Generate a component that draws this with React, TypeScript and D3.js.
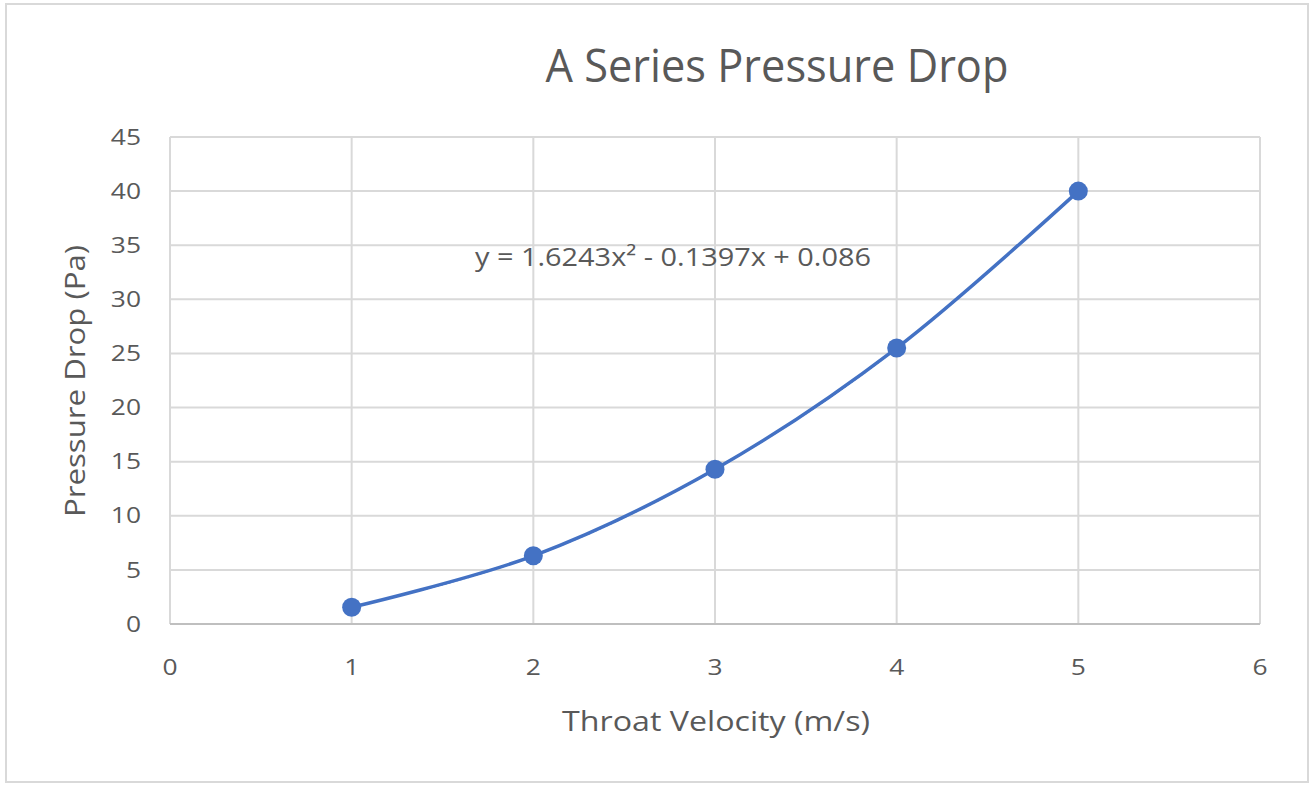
import React from "react";
import * as d3 from "d3";

const velocity = [1, 2, 3, 4, 5];
const pressure = [1.55, 6.3, 14.3, 25.5, 40.0];
const xTicks = [0, 1, 2, 3, 4, 5, 6];
const yTicks = [0, 5, 10, 15, 20, 25, 30, 35, 40, 45];
const equation = "y = 1.6243x² - 0.1397x + 0.086";

const W = 1311;
const H = 785;
const grey = "#d9d9d9";
const textColor = "#595959";
const blue = "#4472c4";
const font = "'Open Sans', 'Noto Sans', sans-serif";

// the reference is a bit wider than tall, so the small labels get stretched
function Label(props: { x: number; y: number; anchor: string; children: React.ReactNode }) {
  return (
    <text
      transform={`translate(${props.x},${props.y}) scale(1.2,1)`}
      dy="0.35em"
      textAnchor={props.anchor}
      fontSize={22}
      fill={textColor}
    >
      {props.children}
    </text>
  );
}

export default function App() {
  const x = d3.scaleLinear().domain([0, 6]).range([170, 1260]);
  const y = d3.scaleLinear().domain([0, 45]).range([624, 137]);

  const pts: [number, number][] = velocity.map((v, i) => [x(v), y(pressure[i])]);
  const smooth = d3.line().curve(d3.curveCatmullRom.alpha(0.5))(pts) || "";
  const trend = d3.line().curve(d3.curveNatural)(pts) || "";

  return (
    <svg
      width={W}
      height={H}
      style={{ position: "absolute", left: 0, top: 0, background: "#fff" }}
      fontFamily={font}
    >
      <rect x={6} y={4} width={1302} height={778} fill="#fff" stroke={grey} strokeWidth={2} />

      <text
        x={777}
        y={82}
        textAnchor="middle"
        fontSize={46}
        fill={textColor}
        textLength={463}
        lengthAdjust="spacingAndGlyphs"
      >
        A Series Pressure Drop
      </text>

      {yTicks.map((t) => (
        <g key={"y" + t}>
          <line x1={x(0)} x2={x(6)} y1={y(t)} y2={y(t)} stroke={grey} strokeWidth={2} />
          <Label x={141} y={y(t)} anchor="end">
            {t}
          </Label>
        </g>
      ))}
      {xTicks.map((t) => (
        <g key={"x" + t}>
          <line x1={x(t)} x2={x(t)} y1={y(0)} y2={y(45)} stroke={grey} strokeWidth={2} />
          <Label x={x(t)} y={667} anchor="middle">
            {t}
          </Label>
        </g>
      ))}
      <line x1={x(0)} x2={x(6)} y1={y(0)} y2={y(0)} stroke="#bfbfbf" strokeWidth={2} />

      <text
        x={716}
        y={722}
        dy="0.35em"
        textAnchor="middle"
        fontSize={27}
        fill={textColor}
        textLength={308}
        lengthAdjust="spacingAndGlyphs"
      >
        Throat Velocity (m/s)
      </text>
      <text
        transform={`translate(76,381) rotate(-90)`}
        dy="0.35em"
        textAnchor="middle"
        fontSize={27}
        fill={textColor}
        textLength={272}
        lengthAdjust="spacingAndGlyphs"
      >
        Pressure Drop (Pa)
      </text>

      <path d={smooth} fill="none" stroke={blue} strokeWidth={3.5} />
      <path d={trend} fill="none" stroke={blue} strokeWidth={2} strokeDasharray="2,2" />
      {pts.map(([px, py], i) => (
        <circle key={i} cx={px} cy={py} r={9.5} fill={blue} />
      ))}

      <text
        x={673}
        y={257}
        dy="0.35em"
        textAnchor="middle"
        fontSize={25}
        fill={textColor}
        textLength={396}
        lengthAdjust="spacingAndGlyphs"
      >
        {equation}
      </text>
    </svg>
  );
}
